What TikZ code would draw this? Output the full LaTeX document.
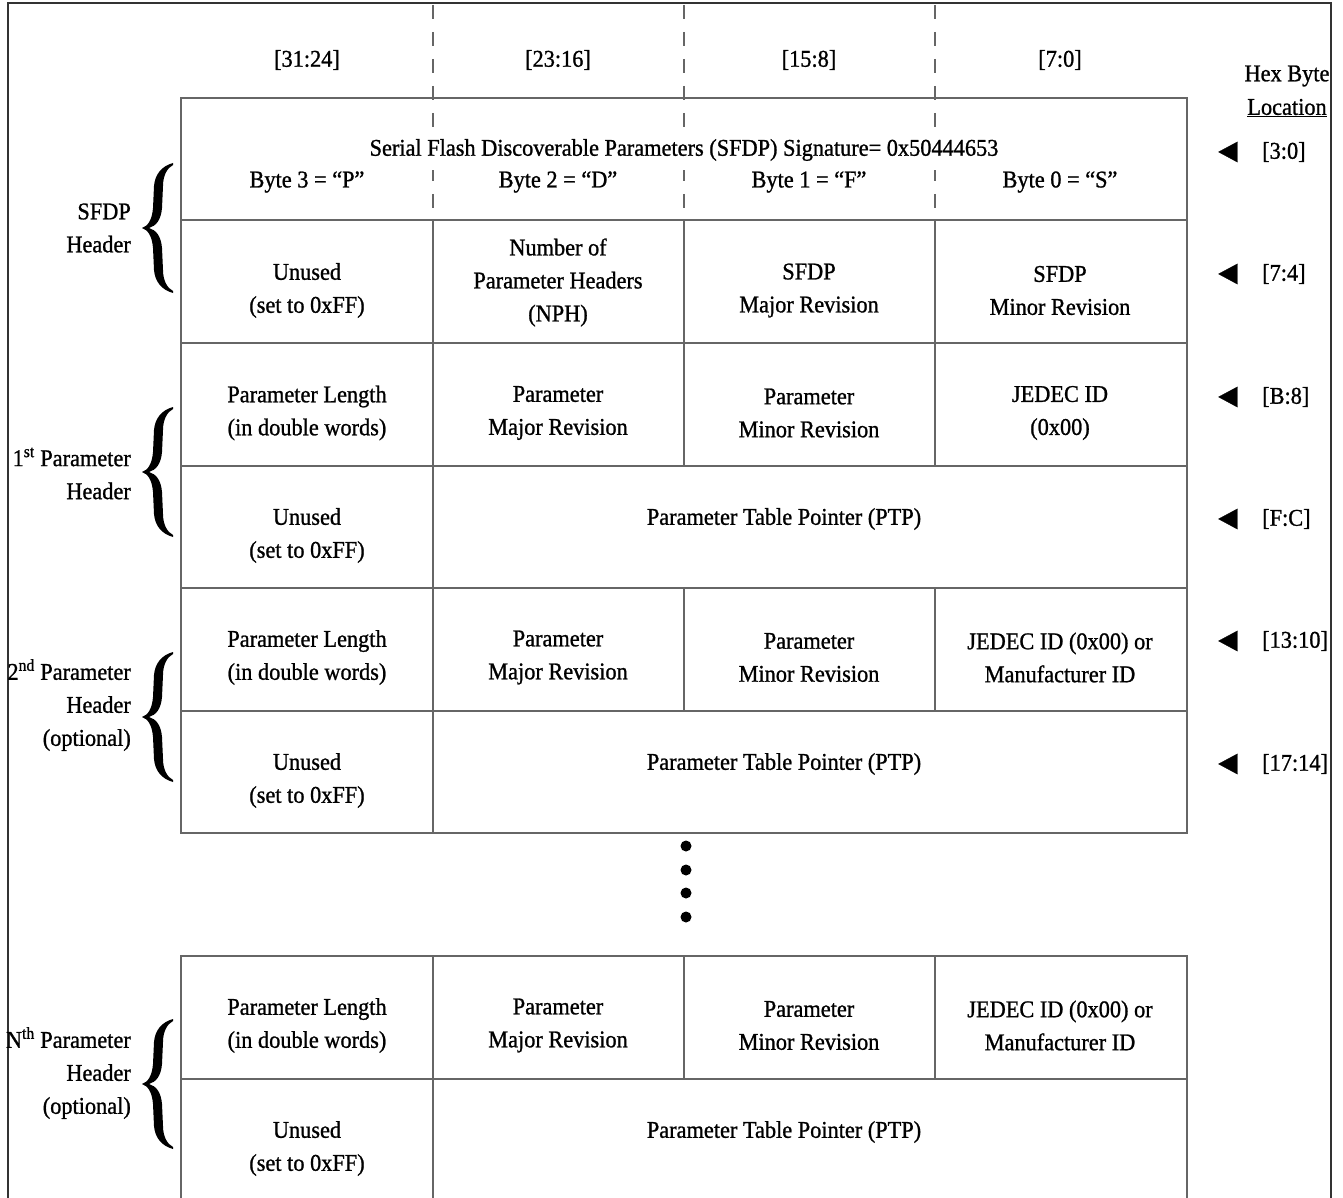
\documentclass[tikz,border=0pt]{standalone}
\usepackage{fontspec}
\setmainfont{Liberation Serif}[FakeStretch=0.93, FakeBold=1]
\usepackage{tikz}
\definecolor{gridgray}{HTML}{666666}
\definecolor{framegray}{HTML}{333333}
\tikzset{hdr brace/.pic={
  \fill (31,-65) .. controls (20,-62) and (13,-54) .. (12,-42) -- (11,-20) .. controls (10,-8) and (6,-2) .. (0,0)
    .. controls (6,2) and (10,8) .. (11,20) -- (12,42) .. controls (13,54) and (20,62) .. (31,65)
    -- (31,63) .. controls (25,60) and (21,52) .. (21,42) -- (20,20) .. controls (19,8) and (14,2) .. (7,0)
    .. controls (14,-2) and (19,-8) .. (20,-20) -- (21,-42) .. controls (21,-52) and (25,-60) .. (31,-63) -- cycle;
}}

\begin{document}
\begin{tikzpicture}[x=1pt, y=-1pt,
  every node/.style={font=\fontsize{24}{33}\selectfont, inner sep=0pt, align=center},
  grid/.style={draw=gridgray, line width=1.8pt},
  col/.style={draw=gridgray, line width=1.2pt, dash pattern=on 14pt off 13pt},
  frame/.style={draw=framegray, line width=1.4pt},
  side/.style={anchor=east, align=right},
  pointer/.style={font=\fontsize{34}{34}\selectfont},
  loc/.style={anchor=west}]
\useasboundingbox (0,0) rectangle (1343,1198);
\clip (0,0) rectangle (1343,1198);
\draw[frame] (8,1210) -- (8,3) -- (1331,3) -- (1331,1210);

% byte columns
\draw (307,60) node (bits3) {[31:24]};
\draw (558,60) node (bits2) {[23:16]};
\draw (809,60) node (bits1) {[15:8]};
\draw (1060,60) node (bits0) {[7:0]};
\draw[col] (433,5) -- (433,220) (684,5) -- (684,220) (935,5) -- (935,220);

% table grid
\draw[grid] (181,98) rectangle (1187,833);
\draw[grid] (181,956) rectangle (1187,1210);
\draw[grid] (181,220) -- (1187,220) (181,343) -- (1187,343) (181,466) -- (1187,466)
            (181,588) -- (1187,588) (181,711) -- (1187,711) (181,1079) -- (1187,1079);
\draw[grid] (433,220) -- (433,833) (684,220) -- (684,466) (935,220) -- (935,466)
            (684,588) -- (684,711) (935,588) -- (935,711);
\draw[grid] (433,956) -- (433,1210) (684,956) -- (684,1079) (935,956) -- (935,1079);

% SFDP header
\draw (684,150) node[fill=white, inner xsep=3pt, inner ysep=9pt] (signature) {Serial Flash Discoverable Parameters (SFDP) Signature= 0x50444653};
\draw (307,182) node (byte3) {Byte 3 = “P”};
\draw (558,182) node (byte2) {Byte 2 = “D”};
\draw (809,182) node (byte1) {Byte 1 = “F”};
\draw (1060,182) node (byte0) {Byte 0 = “S”};
\draw (307,290.5) node (unused hdr) {Unused\\(set to 0xFF)};
\draw (558,282.5) node (nph) {Number of\\Parameter Headers\\(NPH)};
\draw (809,290.5) node (sfdp major) {SFDP\\Major Revision};
\draw (1060,290.5) node (sfdp minor) {SFDP\\Minor Revision};

% 1st parameter header
\draw (307,413) node (length one) {Parameter Length\\(in double words)};
\draw (558,413) node (major one) {Parameter\\Major Revision};
\draw (809,413) node (minor one) {Parameter\\Minor Revision};
\draw (1060,413) node (id one) {JEDEC ID\\(0x00)};
\draw (307,535.5) node (unused one) {Unused\\(set to 0xFF)};
\draw (784,519) node (ptp one) {Parameter Table Pointer (PTP)};

% 2nd parameter header
\draw (307,657.5) node (length two) {Parameter Length\\(in double words)};
\draw (558,657.5) node (major two) {Parameter\\Major Revision};
\draw (809,657.5) node (minor two) {Parameter\\Minor Revision};
\draw (1060,657.5) node (id two) {JEDEC ID (0x00) or\\Manufacturer ID};
\draw (307,780.5) node (unused two) {Unused\\(set to 0xFF)};
\draw (784,764) node (ptp two) {Parameter Table Pointer (PTP)};

\foreach \y in {846,870,893,917} \fill (686,\y) circle (5.5);

% Nth parameter header
\draw (307,1025.5) node (length n) {Parameter Length\\(in double words)};
\draw (558,1025.5) node (major n) {Parameter\\Major Revision};
\draw (809,1025.5) node (minor n) {Parameter\\Minor Revision};
\draw (1060,1025.5) node (id n) {JEDEC ID (0x00) or\\Manufacturer ID};
\draw (307,1148.5) node (unused n) {Unused\\(set to 0xFF)};
\draw (784,1132) node (ptp n) {Parameter Table Pointer (PTP)};

%% header names
\draw (131,228) node[side] (sfdp label) {SFDP\\Header};
\pic at (142,228) {hdr brace};
\draw (131,473.5) node[side] (one label) {1\textsuperscript{st} Parameter\\Header};
\pic at (142,472) {hdr brace};
\draw (131,705) node[side] (two label) {2\textsuperscript{nd} Parameter\\Header\\(optional)};
\pic at (142,717) {hdr brace};
\draw (131,1073) node[side] (n label) {N\textsuperscript{th} Parameter\\Header\\(optional)};
\pic at (142,1084) {hdr brace};

%% byte locations
\draw (1287,76) node (hex byte) {Hex Byte};
\draw (1287,108) node (location) {\underline{Location}};
\draw (1228,152) node[pointer] (arrow a) {◄} (1262,152) node[loc] (at a) {[3:0]};
\draw (1228,274) node[pointer] (arrow b) {◄} (1262,274) node[loc] (at b) {[7:4]};
\draw (1228,397) node[pointer] (arrow c) {◄} (1262,397) node[loc] (at c) {[B:8]};
\draw (1228,519) node[pointer] (arrow d) {◄} (1262,519) node[loc] (at d) {[F:C]};
\draw (1228,641) node[pointer] (arrow e) {◄} (1262,641) node[loc] (at e) {[13:10]};
\draw (1228,764) node[pointer] (arrow f) {◄} (1262,764) node[loc] (at f) {[17:14]};
\end{tikzpicture}
\end{document}
